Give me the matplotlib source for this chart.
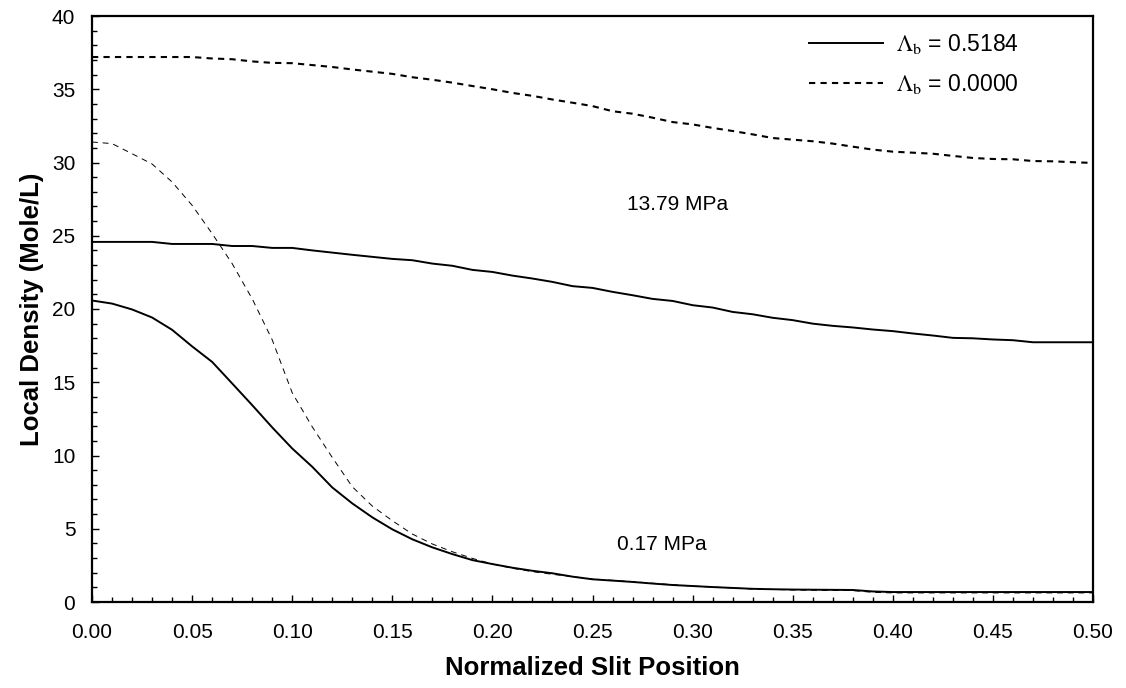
import matplotlib
matplotlib.use("Agg")
import matplotlib.pyplot as plt
from matplotlib.ticker import MultipleLocator, FormatStrFormatter

plt.rcParams['font.family'] = ['Liberation Sans', 'DejaVu Sans']
plt.rcParams['mathtext.fontset'] = 'stix'

# slit position (normalized)
x = [0.00, 0.01, 0.02, 0.03, 0.04, 0.05, 0.06, 0.07, 0.08, 0.09,
     0.10, 0.11, 0.12, 0.13, 0.14, 0.15, 0.16, 0.17, 0.18, 0.19,
     0.20, 0.21, 0.22, 0.23, 0.24, 0.25, 0.26, 0.27, 0.28, 0.29,
     0.30, 0.31, 0.32, 0.33, 0.34, 0.35, 0.36, 0.37, 0.38, 0.39,
     0.40, 0.41, 0.42, 0.43, 0.44, 0.45, 0.46, 0.47, 0.48, 0.49, 0.50]

# 13.79 MPa, Lambda_b = 0.0000
hp_0000 = [37.20, 37.20, 37.20, 37.20, 37.20, 37.20, 37.10, 37.05, 36.90, 36.80,
           36.78, 36.65, 36.52, 36.35, 36.20, 36.05, 35.82, 35.65, 35.45, 35.22,
           35.00, 34.75, 34.55, 34.30, 34.08, 33.85, 33.50, 33.33, 33.06, 32.76,
           32.60, 32.36, 32.15, 31.92, 31.67, 31.56, 31.45, 31.29, 31.08, 30.88,
           30.74, 30.67, 30.60, 30.45, 30.31, 30.24, 30.22, 30.10, 30.08, 30.02, 29.97]

# 13.79 MPa, Lambda_b = 0.5184
hp_5184 = [24.58, 24.58, 24.58, 24.58, 24.44, 24.44, 24.44, 24.30, 24.30, 24.17,
           24.17, 24.00, 23.85, 23.70, 23.56, 23.42, 23.33, 23.10, 22.95, 22.67,
           22.53, 22.28, 22.08, 21.85, 21.56, 21.44, 21.17, 20.94, 20.69, 20.55,
           20.26, 20.10, 19.80, 19.64, 19.40, 19.24, 19.00, 18.85, 18.74, 18.60,
           18.49, 18.33, 18.19, 18.03, 18.00, 17.92, 17.87, 17.73, 17.73, 17.73, 17.73]

# 0.17 MPa, Lambda_b = 0.0000
lp_0000 = [31.40, 31.29, 30.60, 29.90, 28.67, 27.08, 25.15, 23.10, 20.70, 17.90,
           14.28, 11.96, 9.87, 7.87, 6.55, 5.55, 4.64, 3.96, 3.43, 2.98,
           2.59, 2.30, 2.07, 1.89, 1.73, 1.57, 1.48, 1.39, 1.28, 1.18,
           1.09, 1.02, 0.96, 0.88, 0.86, 0.82, 0.80, 0.79, 0.78, 0.66,
           0.62, 0.62, 0.62, 0.62, 0.62, 0.62, 0.62, 0.62, 0.62, 0.62, 0.62]

# 0.17 MPa, Lambda_b = 0.5184
lp_5184 = [20.58, 20.37, 19.97, 19.42, 18.58, 17.45, 16.39, 14.92, 13.44, 11.92,
           10.48, 9.23, 7.82, 6.73, 5.78, 4.96, 4.28, 3.73, 3.27, 2.86,
           2.59, 2.34, 2.13, 1.96, 1.73, 1.55, 1.46, 1.37, 1.26, 1.16,
           1.09, 1.02, 0.96, 0.90, 0.87, 0.85, 0.84, 0.83, 0.82, 0.72,
           0.68, 0.68, 0.68, 0.68, 0.68, 0.68, 0.68, 0.68, 0.68, 0.68, 0.68]

fig = plt.figure(figsize=(11.26, 6.88), dpi=100)
ax = fig.add_axes([92/1126, 86/688, 1001/1126, 586/688])

ax.plot(x, hp_5184, color='black', lw=1.4, label=r'$\Lambda_{\rm b}$ = 0.5184')
ax.plot(x, hp_0000, color='black', lw=1.5, linestyle=(0, (3, 2.5)),
        label=r'$\Lambda_{\rm b}$ = 0.0000')
ax.plot(x, lp_5184, color='black', lw=1.4)
ax.plot(x, lp_0000, color='black', lw=0.7, linestyle=(0, (6, 5)))

ax.set_xlim(0, 0.5)
ax.set_ylim(0, 40)
ax.xaxis.set_major_locator(MultipleLocator(0.05))
ax.xaxis.set_minor_locator(MultipleLocator(0.01))
ax.xaxis.set_major_formatter(FormatStrFormatter('%.2f'))
ax.yaxis.set_major_locator(MultipleLocator(5))
ax.yaxis.set_minor_locator(MultipleLocator(1))
ax.tick_params(which='both', direction='in', labelsize=15, width=1)
ax.tick_params(which='major', length=5)
ax.tick_params(which='minor', length=3.5)
ax.tick_params(axis='x', which='major', pad=15)
ax.tick_params(axis='y', which='major', pad=12)
for s in ax.spines.values():
    s.set_linewidth(1.6)

ax.set_xlabel('Normalized Slit Position', fontsize=18.5, fontweight='bold', labelpad=10)
ax.set_ylabel('Local Density (Mole/L)', fontsize=18.5, fontweight='bold', labelpad=6)

ax.text(0.2927, 27.1, '13.79 MPa', fontsize=15, ha='center', va='center')
ax.text(0.2847, 3.9, '0.17 MPa', fontsize=15, ha='center', va='center')

ax.legend(loc='upper left', bbox_to_anchor=(0.716, 0.972), frameon=False,
          fontsize=16.5, handlelength=3.25, handletextpad=0.55, labelspacing=0.66,
          borderpad=0, borderaxespad=0)

fig.savefig('out.png', dpi=100)
